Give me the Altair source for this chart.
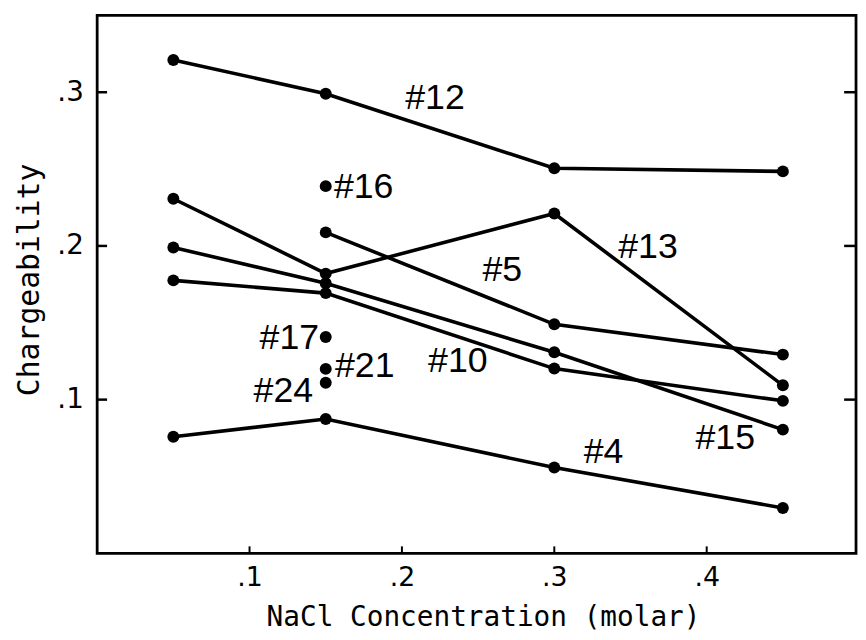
import altair as alt
import pandas as pd

# Series data (NaCl concentration vs chargeability)
conc = [0.05, 0.15, 0.3, 0.45]
s12 = [0.321, 0.299, 0.2505, 0.2485]
s13 = [0.2307, 0.182, 0.2211, 0.1093]
s15 = [0.199, 0.1757, 0.1308, 0.0805]
s10 = [0.1776, 0.1693, 0.1202, 0.0992]
s5_conc = [0.15, 0.3, 0.45]
s5 = [0.2088, 0.149, 0.1293]
s4 = [0.0758, 0.0874, 0.0558, 0.0295]

single_names = ["#16", "#17", "#21", "#24"]
single_conc = [0.15, 0.15, 0.15, 0.15]
single_vals = [0.2389, 0.1407, 0.120, 0.111]

label_text = ["#12", "#16", "#13", "#5", "#10", "#15", "#4", "#17", "#21", "#24"]
label_x = [0.2217, 0.1749, 0.3615, 0.2659, 0.2367, 0.4122, 0.3323, 0.1261, 0.1756, 0.1222]
label_y = [0.2963, 0.2382, 0.1995, 0.1841, 0.1248, 0.0751, 0.0661, 0.1402, 0.1215, 0.1054]

x_ticks = [0.1, 0.2, 0.3, 0.4]
y_ticks = [0.1, 0.2, 0.3]

rows = []
for name, xs, ys in [("#12", conc, s12), ("#13", conc, s13), ("#15", conc, s15),
                     ("#10", conc, s10), ("#5", s5_conc, s5), ("#4", conc, s4)]:
    for i, (a, b) in enumerate(zip(xs, ys)):
        rows.append({"series": name, "c": a, "m": b, "o": i})
lines_df = pd.DataFrame(rows)
single_df = pd.DataFrame({"series": single_names, "c": single_conc, "m": single_vals})
pts_df = pd.concat([lines_df[["series", "c", "m"]], single_df], ignore_index=True)
lab_df = pd.DataFrame({"t": label_text, "c": label_x, "m": label_y})

W, H = 766, 543
xs = alt.Scale(domain=[0, 0.498], nice=False, zero=False)
ys = alt.Scale(domain=[0, 0.35], nice=False, zero=False)

x_axis = alt.Axis(values=x_ticks, format=".1f", labelExpr="substring(datum.label, 1)",
                  ticks=False, domain=False, grid=False, title=None,
                  labelFontSize=27, labelFont="DejaVu Sans", labelColor="black",
                  labelPadding=11)
y_axis = alt.Axis(values=y_ticks, format=".1f", labelExpr="substring(datum.label, 1)",
                  ticks=False, domain=False, grid=False, title=None,
                  labelFontSize=28, labelFont="DejaVu Sans", labelColor="black",
                  labelPadding=14)

base = alt.Chart(lines_df)
lines = base.mark_line(color="black", strokeWidth=3.6).encode(
    x=alt.X("c:Q", scale=xs, axis=x_axis),
    y=alt.Y("m:Q", scale=ys, axis=y_axis),
    detail="series:N",
    order="o:Q",
)
points = alt.Chart(pts_df).mark_circle(color="black", opacity=1, size=145).encode(
    x=alt.X("c:Q", scale=xs), y=alt.Y("m:Q", scale=ys))
labels = alt.Chart(lab_df).mark_text(font="Liberation Sans", fontSize=36, color="black",
                                     align="center", baseline="middle").encode(
    x=alt.X("c:Q", scale=xs), y=alt.Y("m:Q", scale=ys), text="t:N")

yt_df = pd.DataFrame({"v": y_ticks})
xt_df = pd.DataFrame({"v": x_ticks})
left_ticks = alt.Chart(yt_df).mark_rule(color="black", strokeWidth=2.5).encode(
    y=alt.Y("v:Q", scale=ys), x=alt.value(0), x2=alt.value(10))
right_ticks = alt.Chart(yt_df).mark_rule(color="black", strokeWidth=2.5).encode(
    y=alt.Y("v:Q", scale=ys), x=alt.value(W - 12), x2=alt.value(W))
bottom_ticks = alt.Chart(xt_df).mark_rule(color="black", strokeWidth=2).encode(
    x=alt.X("v:Q", scale=xs), y=alt.value(H - 7), y2=alt.value(H))

xtitle = alt.Chart(pd.DataFrame({"t": ["NaCl Concentration (molar)"]})).mark_text(
    font="DejaVu Sans Mono", fontSize=28, color="black",
    align="center", baseline="middle").encode(
    text="t:N", x=alt.value(390), y=alt.value(608))
ytitle = alt.Chart(pd.DataFrame({"t": ["Chargeability"]})).mark_text(
    font="DejaVu Sans Mono", fontSize=30, color="black", angle=270,
    align="center", baseline="middle").encode(
    text="t:N", x=alt.value(-68), y=alt.value(267))

chart = alt.layer(lines, points, labels, left_ticks, right_ticks, bottom_ticks,
                  xtitle, ytitle).properties(
    width=W, height=H,
    autosize=alt.AutoSizeParams(type="none"),
    padding={"left": 90, "top": 4.5, "right": 2, "bottom": 80},
).configure(background="white").configure_view(stroke="black", strokeWidth=2.8)

chart.save("out.html", embed_options={"renderer": "svg", "actions": False})
